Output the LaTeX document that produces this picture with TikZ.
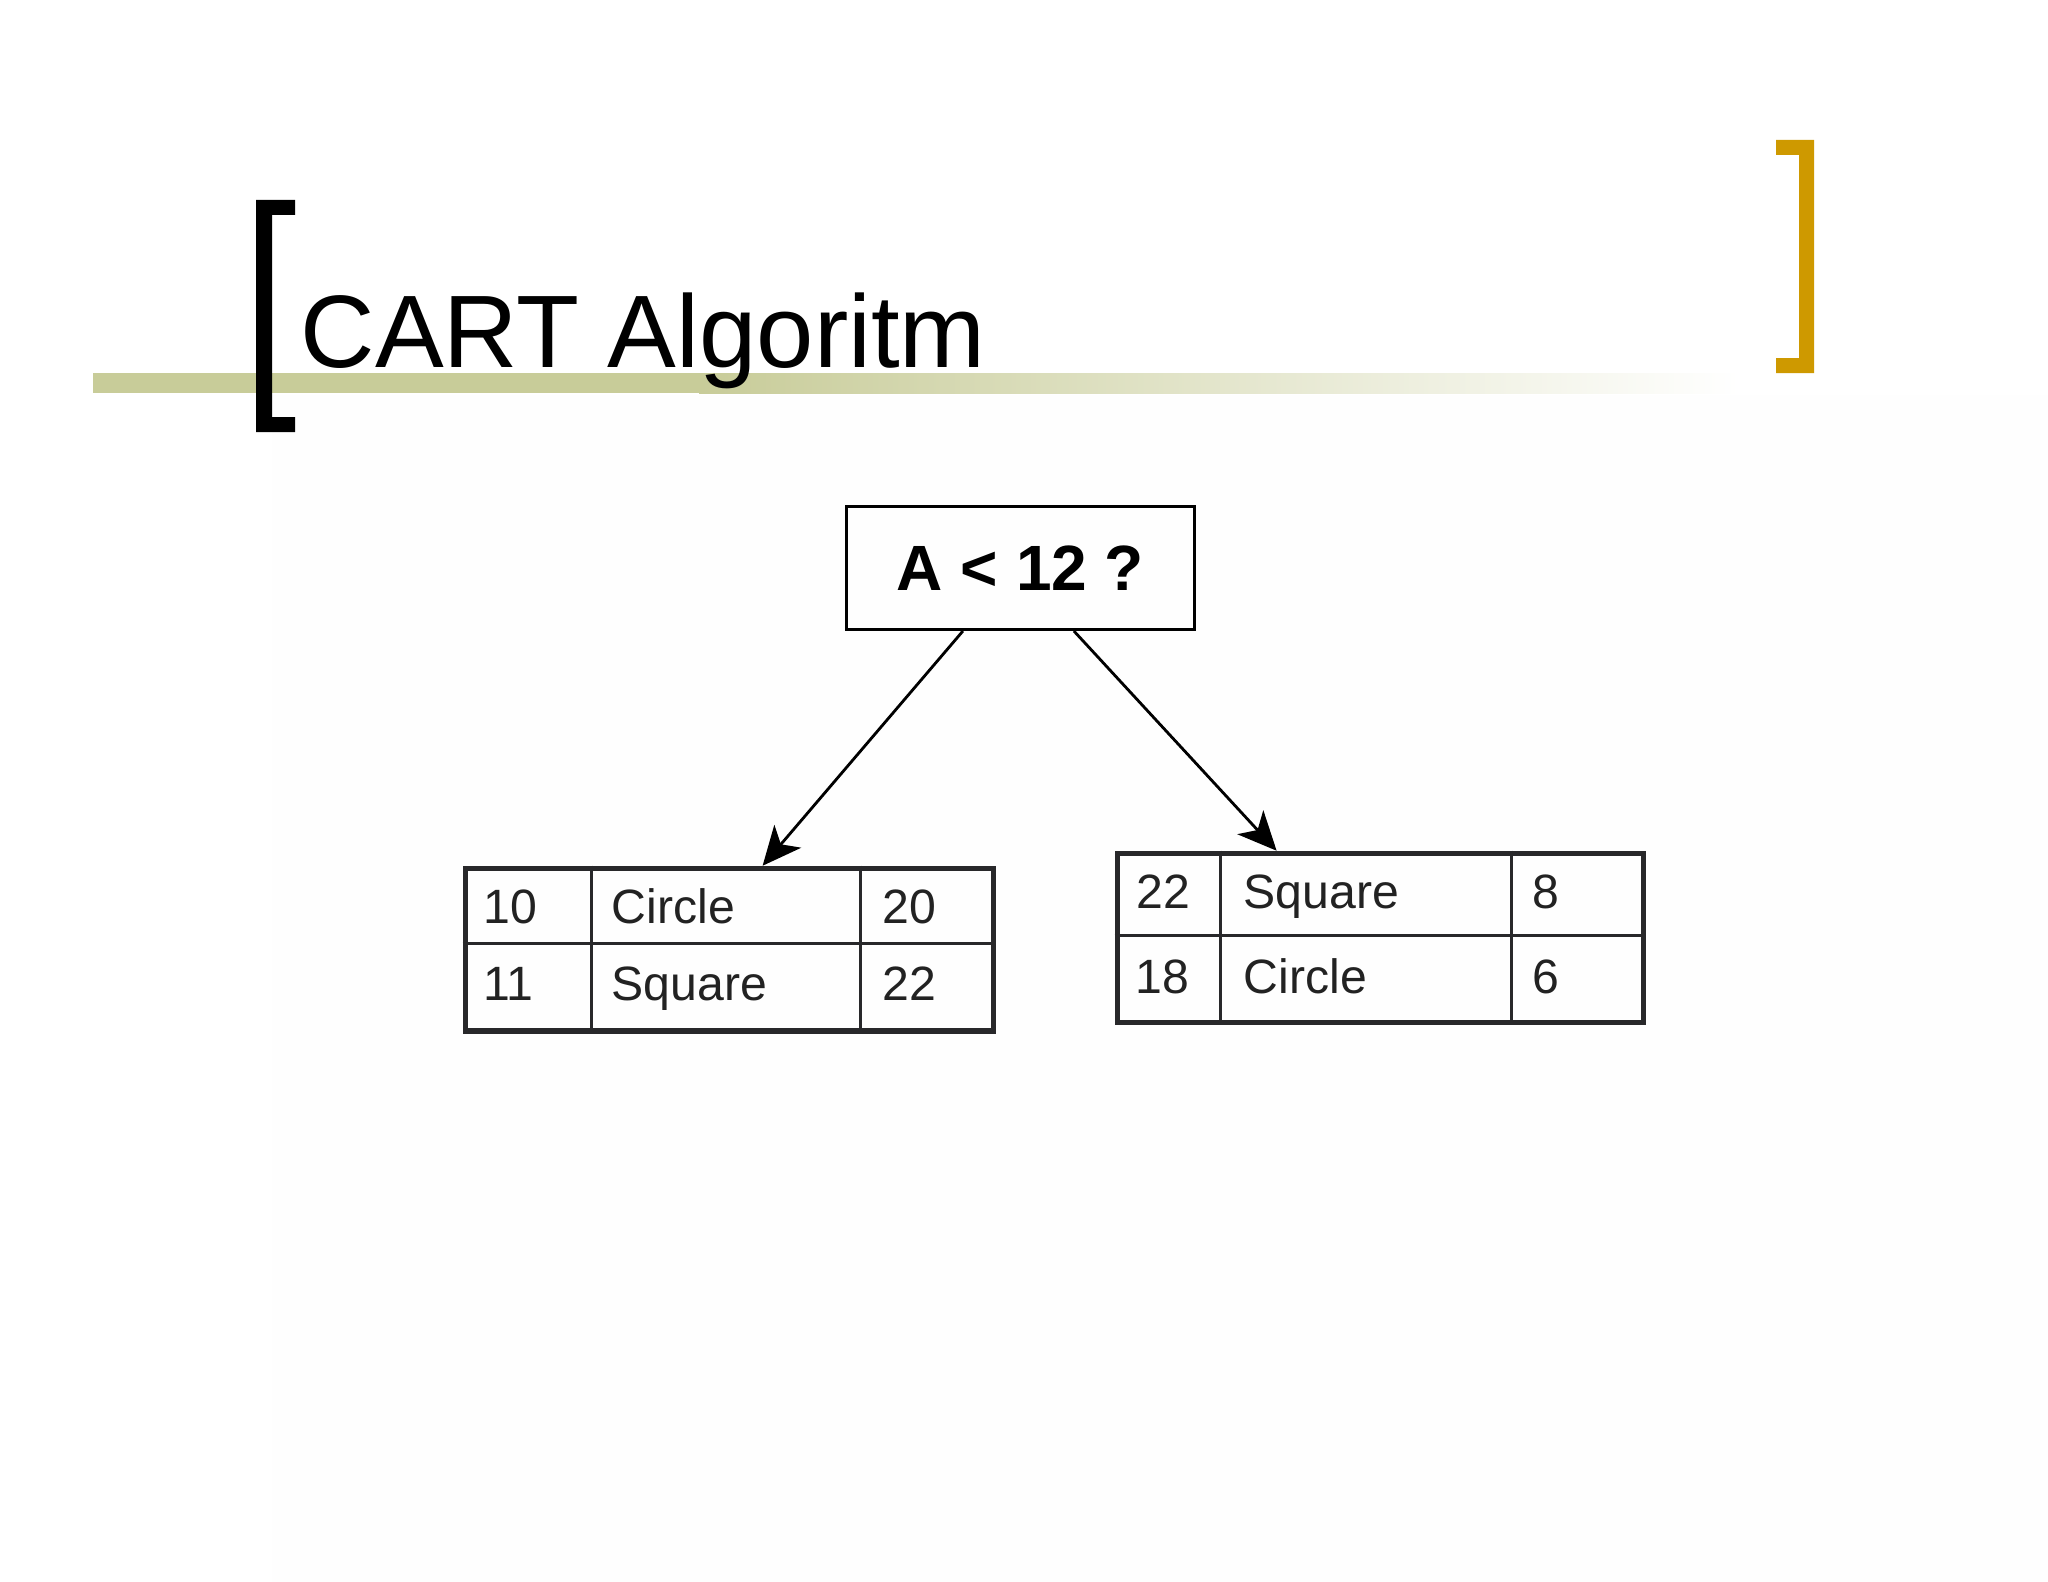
\documentclass[tikz,border=0pt]{standalone}
\usepackage{fontspec}
\setmainfont{Liberation Sans}
\usetikzlibrary{arrows.meta,calc}
\definecolor{bandolive}{RGB}{200,204,153}
\definecolor{gold}{RGB}{206,153,0}
\definecolor{tblgray}{RGB}{40,40,42}
\definecolor{txtgray}{RGB}{34,34,34}
\definecolor{faintbg}{RGB}{254,254,254}
\begin{document}
\begin{tikzpicture}[x=0.01cm,y=-0.01cm,
  tbl/.style={draw=tblgray, line width=1.55pt, rectangle, inner sep=0pt},
  inner/.style={draw=tblgray, line width=0.8pt},
  celltext/.style={anchor=base west, inner sep=0pt, text=txtgray, font=\fontsize{13.7}{16}\selectfont},
  qbox/.style={draw=black, line width=0.85pt, rectangle, inner sep=0pt, minimum width=3.48cm, minimum height=1.23cm, font=\bfseries\fontsize{18.2}{22}\selectfont},
  arr/.style={-{Stealth[length=11pt,width=10pt,inset=3pt]}, line width=0.8pt, draw=black, fill=black}]
\useasboundingbox (0,0) rectangle (2048,1582);
\fill[white] (0,0) rectangle (2048,1582);
\fill[faintbg] (272,395) rectangle (2048,1582);
% title band
\fill[bandolive] (93,373) rectangle (700,393);
\shade[left color=bandolive, right color=white] (699,373) rectangle (1740,393);
% brackets
\fill[black] (256,200) -- (295,200) -- (295,215) -- (272,215) -- (272,417) -- (295,417) -- (295,432) -- (256,432) -- cycle;
\fill[gold] (1776,140) -- (1814,140) -- (1814,373) -- (1776,373) -- (1776,358) -- (1799,358) -- (1799,155) -- (1776,155) -- cycle;
% title
\node[anchor=base west, inner sep=0pt, font=\fontsize{29.3}{35}\selectfont] (title) at (300,367) {CART Algoritm};
% question node
\node[qbox] (q) at (1020.5,568) {A < 12 ?};
% left table
\node[tbl, minimum width=5.28cm, minimum height=1.625cm] (L) at (729.5,949.75) {};
\draw[inner] ($(L.north west)+(128.5,0)$) -- ($(L.south west)+(128.5,0)$);
\draw[inner] ($(L.north west)+(397.5,0)$) -- ($(L.south west)+(397.5,0)$);
\draw[inner] ($(L.north west)+(0,77.5)$) -- ($(L.north east)+(0,77.5)$);
\node[celltext] (l11) at (483,923) {10};
\node[celltext] (l12) at (611,923) {Circle};
\node[celltext] (l13) at (882,923) {20};
\node[celltext] (l21) at (483,1000) {11};
\node[celltext] (l22) at (611,1000) {Square};
\node[celltext] (l23) at (882,1000) {22};
% right table
\node[tbl, minimum width=5.26cm, minimum height=1.69cm] (R) at (1380.5,938) {};
\draw[inner] ($(R.north west)+(105.5,0)$) -- ($(R.south west)+(105.5,0)$);
\draw[inner] ($(R.north west)+(396.5,0)$) -- ($(R.south west)+(396.5,0)$);
\draw[inner] ($(R.north west)+(0,84.5)$) -- ($(R.north east)+(0,84.5)$);
\node[celltext] (r11) at (1136,908) {22};
\node[celltext] (r12) at (1243,908) {Square};
\node[celltext] (r13) at (1532,908) {8};
\node[celltext] (r21) at (1135,993) {18};
\node[celltext] (r22) at (1243,993) {Circle};
\node[celltext] (r23) at (1532,993) {6};
% arrows
\draw[arr] ($(q.south west)+(118,0)$) -- ($(L.north west)+(300,0)$);
\draw[arr] ($(q.south west)+(229,0)$) -- ($(R.north west)+(162,0)$);
\end{tikzpicture}
\end{document}
